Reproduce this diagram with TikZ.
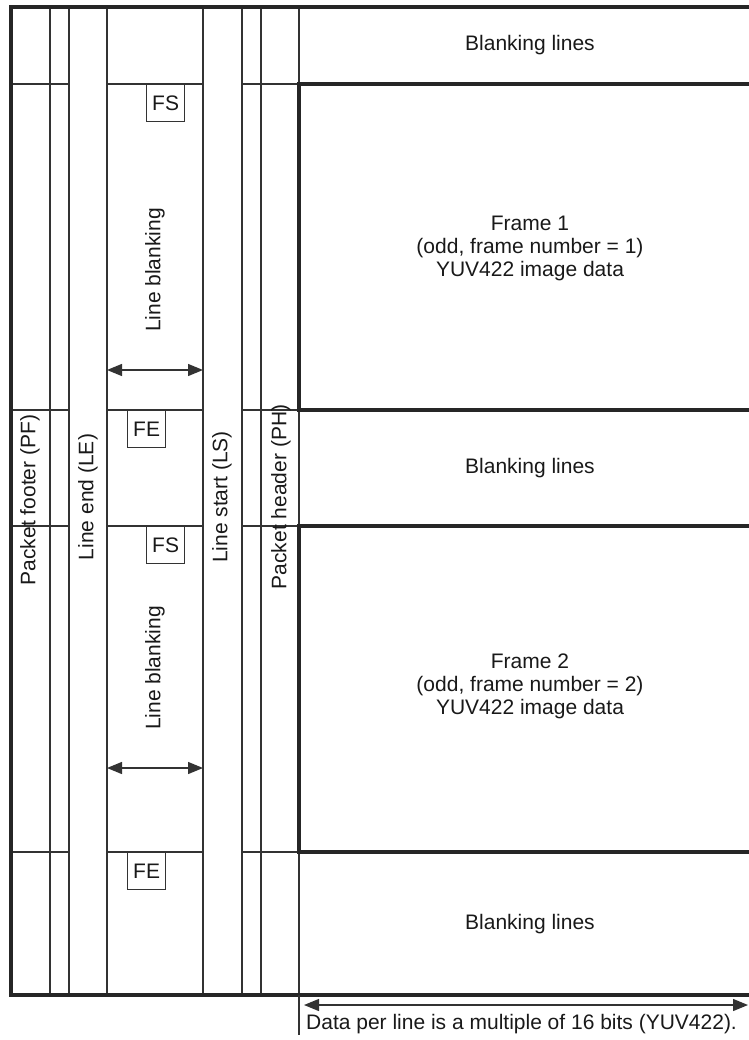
\documentclass[tikz,border=0pt]{standalone}
\usepackage{fontspec}
\setmainfont{Liberation Sans}
\usetikzlibrary{arrows.meta}

\begin{document}
\begin{tikzpicture}[x=1pt,y=-1pt,>={Triangle[length=15pt,width=12pt]},
  thin line/.style={line width=1.3pt,draw=black!80},
  thick line/.style={line width=3.2pt,draw=black!85},
  lbl/.style={font=\fontsize{21}{23}\selectfont,text=black!90},
  vlbl/.style={lbl,rotate=90},
  flagbox/.style={lbl,draw=black!80,line width=1.3pt,minimum width=38pt,minimum height=37pt,inner sep=0pt,anchor=north west}]
\useasboundingbox (0,0) rectangle (748,1040);
% column dividers
\foreach \x in {50,69,107,203,242,261,299}
  \draw[thin line] (\x,7)--(\x,995);
% row dividers inside the columns
\foreach \y in {84,410,526,852} {
  \draw[thin line] (11,\y)--(69,\y);
  \draw[thin line] (107,\y)--(203,\y);
  \draw[thin line] (242,\y)--(299,\y);
}
% frames
\draw[thick line] (299,84) rectangle (770,410);
\draw[thick line] (299,526) rectangle (770,852);
\draw[thick line,line cap=rect] (770,7)--(11,7)--(11,995)--(770,995);
\draw[thin line] (299,995)--(299,1035);
% FS / FE markers
\node[flagbox] (fs1) at (146,84) {FS};
\node[flagbox] (fe1) at (127,410) {FE};
\node[flagbox] (fs2) at (146,526) {FS};
\node[flagbox] (fe2) at (127,852) {FE};
% column labels
\node[vlbl] (pf) at (30,500) {Packet footer (PF)};
\node[vlbl] (le) at (88,497) {Line end (LE)};
\node[vlbl] (ls) at (222,497) {Line start (LS)};
\node[vlbl] (ph) at (281,497) {Packet header (PH)};
% line blanking
\node[vlbl] (lb1) at (155,270) {Line blanking};
\node[vlbl] (lb2) at (155,668) {Line blanking};
\coordinate (lb1l) at (107,370);
\coordinate (lb1r) at (203,370);
\coordinate (lb2l) at (107,768);
\coordinate (lb2r) at (203,768);
\draw[thin line,<->] (lb1l)--(lb1r);
\draw[thin line,<->] (lb2l)--(lb2r);
% right side
\node[lbl] (bl1) at (530,45) {Blanking lines};
\node[lbl,align=center] (fr1) at (530,248) {Frame 1\\(odd, frame number = 1)\\YUV422 image data};
\node[lbl] (bl2) at (530,468) {Blanking lines};
\node[lbl,align=center] (fr2) at (530,686) {Frame 2\\(odd, frame number = 2)\\YUV422 image data};
\node[lbl] (bl3) at (530,924) {Blanking lines};
% data per line
\coordinate (dl) at (304,1005);
\coordinate (dr) at (748,1005);
\draw[thin line,<->] (dl)--(dr);
\node[lbl,anchor=west,inner sep=0pt] (dpl) at (306,1024) {Data per line is a multiple of 16 bits (YUV422).};
\end{tikzpicture}
\end{document}
